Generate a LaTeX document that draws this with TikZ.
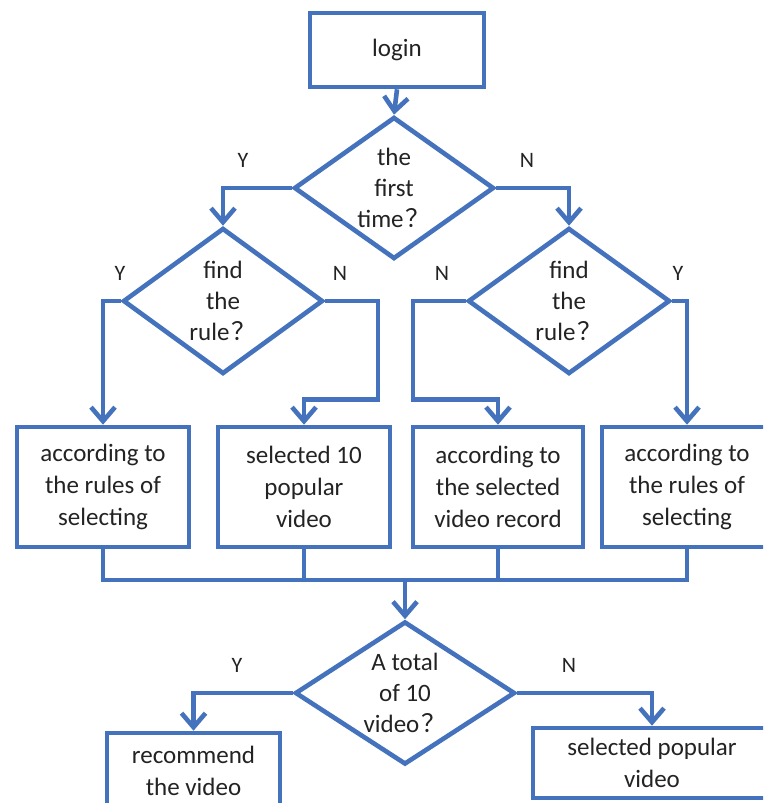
\documentclass[tikz,border=0pt]{standalone}
\usepackage{fontspec}
\setmainfont{Carlito}
\newfontfamily\cjk{Noto Sans CJK SC}
\usetikzlibrary{shapes.geometric,arrows.meta,calc}
\definecolor{flowblue}{RGB}{68,114,188}
\definecolor{ink}{RGB}{35,35,35}
% full-width question mark
\newcommand{\askmark}{\hspace{2pt}{\cjk\symbol{"FF1F}}}
\begin{document}
\begin{tikzpicture}[x=1pt,y=-1pt,
  link/.style={draw=flowblue, line width=4.6pt},
  arr/.style={link, -{Straight Barb[length=14pt,width=24pt]}},
  box/.style={link, rectangle, inner sep=0pt, align=center, text=ink,
    font=\fontsize{25}{32}\selectfont},
  decision/.style={link, diamond, aspect=1.4, inner sep=0pt, align=center, text=ink,
    font=\fontsize{25}{31}\selectfont},
  yn/.style={text=ink, font=\fontsize{22}{26}\selectfont}
]
% canvas
\fill[white] (0,0) rectangle (763,803);
\useasboundingbox (0,0) rectangle (763,803);
\clip (0,0) rectangle (763,803);

% boxes and decisions
\node[box, minimum width=174pt, minimum height=74pt] (login) at (397,50) {login};
\node[decision, minimum width=200pt, minimum height=142pt] (d1) at (394,188) {the\\first\\time\askmark};
\node[decision, minimum width=200pt, minimum height=146pt] (d2) at (223,301) {find\\the\\rule\askmark};
\node[decision, minimum width=202pt, minimum height=146pt] (d3) at (569,301) {find\\the\\rule\askmark};

\node[box, minimum width=172pt, minimum height=120pt] (b1) at (103,487) {according to\\the rules of\\selecting};
\node[box, minimum width=172pt, minimum height=120pt] (b2) at (304,487) {selected 10\\popular\\video};
\node[box, minimum width=170pt, minimum height=120pt] (b3) at (498,487) {according to\\the selected\\video record};
\node[box, minimum width=170pt, minimum height=120pt] (b4) at (687,487) {according to\\the rules of\\selecting};

\node[decision, minimum width=220pt, minimum height=143pt] (d4) at (405,693) {A total\\of 10\\video\askmark};
\node[box, minimum width=173pt, minimum height=76pt] (r1) at (193.5,771) {recommend\\the video};
\node[box, minimum width=238pt, minimum height=70pt] (r2) at (652,763) {selected popular\\video};

% branch labels
\node[yn] (y1) at (243,160) {Y};
\node[yn] (n1) at (527,160) {N};
\node[yn] (y2) at (120,273) {Y};
\node[yn] (n2) at (340,273) {N};
\node[yn] (n3) at (442,273) {N};
\node[yn] (y3) at (678,273) {Y};
\node[yn] (y4) at (237,665) {Y};
\node[yn] (n4) at (569,665) {N};

% connectors
\draw[arr] (login.south) -- (d1.north);
\draw[arr] (d1.west) -| (d2.north);
\draw[arr] (d1.east) -| (d3.north);
\draw[arr] (d2.west) -| (b1.north);
\draw[arr] (d2.east) -| ($(b2.north)+(74,-25)$) -| (b2.north);
\draw[arr] (d3.west) -| ($(b3.north)+(-85,-25)$) -| (b3.north);
\draw[arr] (d3.east) -| (b4.north);

% merge of the four results
\coordinate (join) at (405,580);
\draw[link] (b1.south) -- (b1.south |- join) -- (b4.south |- join) -- (b4.south);
\draw[link] (b2.south) -- (b2.south |- join);
\draw[link] (b3.south) -- (b3.south |- join);
\draw[arr] (join) -- (d4.north);

\draw[arr] (d4.west) -| (r1.north);
\draw[arr] (d4.east) -| (r2.north);
\end{tikzpicture}
\end{document}
